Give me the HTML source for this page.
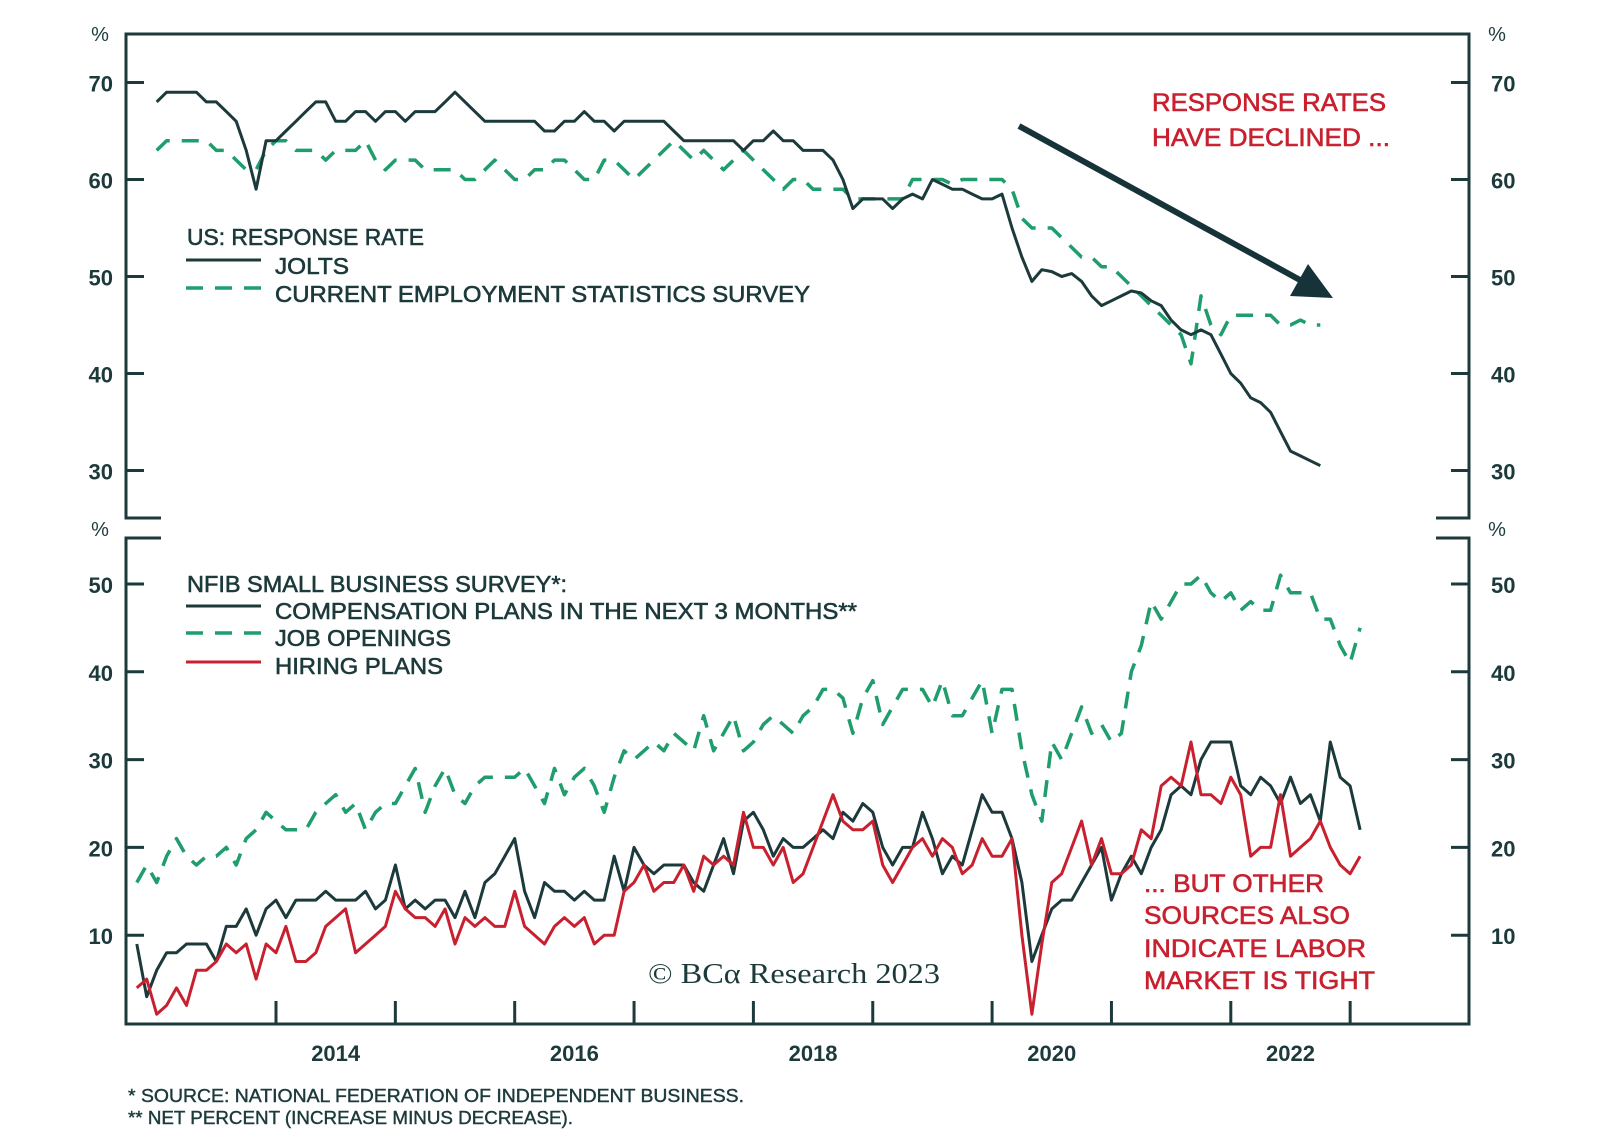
<!DOCTYPE html>
<html><head><meta charset="utf-8">
<style>
html,body{margin:0;padding:0;background:#fff;}
svg{display:block;}
text{font-family:"Liberation Sans",sans-serif;}
.med{stroke-width:0.6px;}
</style></head>
<body>
<svg id="chart" width="1600" height="1146" viewBox="0 0 1600 1146" xmlns="http://www.w3.org/2000/svg">
<g id="frame" stroke="#1c3a3b" stroke-width="3" fill="none">
  <path d="M161,518 H126 V34 H1469 V518 H1436"/>
  <path d="M161,538 H126 V1024 H1469 V538 H1436"/>
</g>
<g id="ticks"></g>
<g id="series"></g>

<g fill="#1c3a3b" stroke="#1c3a3b" class="med" font-size="23">
  <text x="187" y="245" textLength="237" lengthAdjust="spacingAndGlyphs">US: RESPONSE RATE</text>
  <line x1="186" y1="260" x2="261" y2="260" stroke="#1c3a3b" stroke-width="3"/>
  <text x="275" y="274" textLength="74" lengthAdjust="spacingAndGlyphs">JOLTS</text>
  <line x1="186" y1="288" x2="261" y2="288" stroke="#1f9d6c" stroke-width="3.5" stroke-dasharray="17,12"/>
  <text x="275" y="302" textLength="535" lengthAdjust="spacingAndGlyphs">CURRENT EMPLOYMENT STATISTICS SURVEY</text>
</g>
<g fill="#1c3a3b" stroke="#1c3a3b" class="med" font-size="23">
  <text x="187" y="592" textLength="380" lengthAdjust="spacingAndGlyphs">NFIB SMALL BUSINESS SURVEY*:</text>
  <line x1="186" y1="606" x2="261" y2="606" stroke="#1c3a3b" stroke-width="3"/>
  <text x="275" y="619" textLength="582" lengthAdjust="spacingAndGlyphs">COMPENSATION PLANS IN THE NEXT 3 MONTHS**</text>
  <line x1="186" y1="633" x2="261" y2="633" stroke="#1f9d6c" stroke-width="3.5" stroke-dasharray="17,12"/>
  <text x="275" y="646" textLength="176" lengthAdjust="spacingAndGlyphs">JOB OPENINGS</text>
  <line x1="186" y1="662" x2="261" y2="662" stroke="#c8202f" stroke-width="3"/>
  <text x="275" y="674" textLength="168" lengthAdjust="spacingAndGlyphs">HIRING PLANS</text>
</g>

<g fill="#c8202f" stroke="#c8202f" class="med" font-size="25">
  <text x="1152" y="111" textLength="234" lengthAdjust="spacingAndGlyphs">RESPONSE RATES</text>
  <text x="1152" y="146" textLength="238" lengthAdjust="spacingAndGlyphs">HAVE DECLINED ...</text>
</g>
<g>
  <line x1="1019" y1="126" x2="1300" y2="280" stroke="#17333a" stroke-width="6"/>
  <polygon points="1333,298 1290,296 1308,264" fill="#17333a"/>
</g>
<g fill="#c8202f" stroke="#c8202f" class="med" font-size="25">
  <text x="1144" y="892" textLength="180" lengthAdjust="spacingAndGlyphs">... BUT OTHER</text>
  <text x="1144" y="924" textLength="206" lengthAdjust="spacingAndGlyphs">SOURCES ALSO</text>
  <text x="1144" y="957" textLength="222" lengthAdjust="spacingAndGlyphs">INDICATE LABOR</text>
  <text x="1144" y="989" textLength="231" lengthAdjust="spacingAndGlyphs">MARKET IS TIGHT</text>
</g>
<text x="648" y="983" font-size="29" fill="#1c3a3b" style="font-family:'Liberation Serif',serif" textLength="292" lengthAdjust="spacingAndGlyphs">© BCα Research 2023</text>
<g fill="#1c3a3b" stroke="#1c3a3b" stroke-width="0.4" font-size="18">
  <text x="128" y="1102" textLength="616" lengthAdjust="spacingAndGlyphs">*  SOURCE: NATIONAL FEDERATION OF INDEPENDENT BUSINESS.</text>
  <text x="128" y="1124" textLength="445" lengthAdjust="spacingAndGlyphs">** NET PERCENT (INCREASE MINUS DECREASE).</text>
</g>
</svg>
<script>
// ---- data ----
// top panel: monthly from Jan 2013
const topStart = 2013;
const joltsRate = [68,69,69,69,69,68,68,67,66,63,59,64,64,65,66,67,68,68,66,66,67,67,66,67,67,66,67,67,67,68,69,68,67,66,66,66,66,66,66,65,65,66,66,67,66,66,65,66,66,66,66,66,65,64,64,64,64,64,64,63,64,64,65,64,64,63,63,63,62,60,57,58,58,58,57,58,58.5,58,60,59.5,59,59,58.5,58,58,58.5,55,52,49.5,50.7,50.5,50,50.3,49.5,48,47,47.5,48,48.5,48.3,47.5,47,45.5,44.5,44,44.5,44,42,40,39,37.5,37,36,34,32,31.5,31,30.5];
const cesRate = [63,64,64,64,64,64,63,63,62,61,61,63,64,64,63,63,63,62,63,63,63,64,62,61,62,62,62,61,61,61,61,60,60,61,62,61,60,60,61,61,62,62,61,60,60,62,62,61,60,61,62,63,64,63,62,63,62,61,62,63,62,61,60,59,60,60,59,59,59,59,58,58,58,58,58,58,60,60,60,60,59.5,60,60,60,60,60,59,56,55,55,55,54,53,52,52,51,51,50,49,48,47,46,45,44,41,48,45,44,46,46,46,46,46,45,45,45.5,45,45];
// bottom panel: monthly from Nov 2012
const bottomStart = 2012 + 10/12;
const compensationPlans = [9,3,6,8,8,9,9,9,7,11,11,13,10,13,14,12,14,14,14,15,14,14,14,15,13,14,18,13,14,13,14,14,12,15,12,16,17,19,21,15,12,16,15,15,14,15,14,14,19,15,20,18,17,18,18,18,16,15,18,21,17,23,24,22,19,21,20,20,21,22,21,24,23,25,24,20,18,20,20,24,21,17,19,18,22,26,24,24,21,16,7,10,13,14,14,16,18,20,14,17,19,17,20,22,26,27,26,30,32,32,32,27,26,28,27,25,28,25,26,23,32,28,27,22];
const jobOpenings = [16,18,16,19,21,19,18,19,19,20,18,21,22,24,23,22,22,22,24,25,26,24,25,22,24,25,25,27,29,24,27,29,26,25,27,28,28,28,28,29,27,25,29,26,28,29,27,24,28,31,30,31,32,31,33,32,31,35,31,33,35,31,32,34,35,34,33,35,36,38,38,37,33,37,39,34,36,38,38,38,36,39,35,35,37,39,33,38,38,31,26,23,32,30,33,36,33,34,32,33,40,43,48,46,48,50,50,51,49,48,49,47,48,47,47,51,49,49,49,46,46,43,41,45];
const hiringPlans = [4,5,1,2,4,2,6,6,7,9,8,9,5,9,8,11,7,7,8,11,12,13,8,9,10,11,15,13,12,12,11,13,9,12,11,12,11,11,15,11,10,9,11,12,11,12,9,10,10,15,16,18,15,16,16,18,15,19,18,19,18,24,20,20,18,20,16,17,20,23,26,23,22,22,23,18,16,18,20,21,19,21,20,17,18,21,19,19,21,10,1,9,16,17,20,23,18,21,17,17,18,22,21,27,28,27,32,26,26,25,28,26,19,20,20,26,19,20,21,23,20,18,17,19];
const topTicks = [70,60,50,40,30];
const bottomTicks = [50,40,30,20,10];
const yearTicks = [2014,2015,2016,2017,2018,2019,2020,2021,2022,2023];
const yearLabels = ["2014","2016","2018","2020","2022"];

// ---- axes ----
const X0 = 276, PXYEAR = 119.35;
const xScale = t => X0 + (t - 2014) * PXYEAR;
const yTop = v => 82.5 + (70 - v) * 9.7;
const yBot = v => 584 + (50 - v) * 8.78;
const NS = 'http://www.w3.org/2000/svg';
const DARK = '#1c3a3b';

function mk(tag, attrs, parent) {
  const el = document.createElementNS(NS, tag);
  for (const k in attrs) el.setAttribute(k, attrs[k]);
  parent.appendChild(el);
  return el;
}
const tg = document.getElementById('ticks');
topTicks.forEach(v => {
  const y = yTop(v);
  const l1 = mk('line', {x1:126, y1:y, x2:144, y2:y, stroke:DARK, 'stroke-width':3}, tg);
  
  
  const l2 = mk('line', {x1:1451, y1:y, x2:1469, y2:y, stroke:DARK, 'stroke-width':3}, tg);
  
  
  const t1 = mk('text', {x:113, y:y+9, 'text-anchor':'end', 'font-size':22, 'font-weight':'bold', fill:DARK}, tg);
  t1.textContent = v;
  
  
  const t2 = mk('text', {x:1491, y:y+9, 'font-size':22, 'font-weight':'bold', fill:DARK}, tg);
  t2.textContent = v;
  
  
});
bottomTicks.forEach(v => {
  const y = yBot(v);
  const l1 = mk('line', {x1:126, y1:y, x2:144, y2:y, stroke:DARK, 'stroke-width':3}, tg);
  
  
  const l2 = mk('line', {x1:1451, y1:y, x2:1469, y2:y, stroke:DARK, 'stroke-width':3}, tg);
  
  
  const t1 = mk('text', {x:113, y:y+9, 'text-anchor':'end', 'font-size':22, 'font-weight':'bold', fill:DARK}, tg);
  t1.textContent = v;
  
  
  const t2 = mk('text', {x:1491, y:y+9, 'font-size':22, 'font-weight':'bold', fill:DARK}, tg);
  t2.textContent = v;
  
  
});
[[100,41],[1497,41],[100,536],[1497,536]].forEach(p => {
  const t = mk('text', {x:p[0], y:p[1], 'text-anchor':'middle', 'font-size':20, fill:DARK}, tg);
  t.textContent = '%';
  
  
});
yearTicks.forEach(yr => {
  const x = xScale(yr);
  const l = mk('line', {x1:x, y1:1001, x2:x, y2:1024, stroke:DARK, 'stroke-width':3}, tg);
  
  
});
yearLabels.forEach(lbl => {
  const t = mk('text', {x:xScale(+lbl + 0.5), y:1061, 'text-anchor':'middle', 'font-size':22, 'font-weight':'bold', fill:DARK}, tg);
  t.textContent = lbl;
  
  
});

// ---- series ----
const sg = document.getElementById('series');
function drawLine(vals, start, yf, color, dash, name) {
  const d = vals.map((v, i) => (i ? 'L' : 'M') + xScale(start + i / 12).toFixed(1) + ',' + yf(v).toFixed(1)).join(' ');
  const attrs = {d:d, fill:'none', stroke:color, 'stroke-width': dash ? 3.5 : 3, 'stroke-linejoin':'round'};
  if (dash) attrs['stroke-dasharray'] = dash;
  const p = mk('path', attrs, sg);
  
  
}
drawLine(cesRate, topStart, yTop, '#1f9d6c', '17,12', 'ces-response-rate-line');
drawLine(joltsRate, topStart, yTop, DARK, null, 'jolts-response-rate-line');
drawLine(jobOpenings, bottomStart, yBot, '#1f9d6c', '17,12', 'job-openings-line');
drawLine(compensationPlans, bottomStart, yBot, DARK, null, 'compensation-plans-line');
drawLine(hiringPlans, bottomStart, yBot, '#c8202f', null, 'hiring-plans-line');
</script>
</body></html>
